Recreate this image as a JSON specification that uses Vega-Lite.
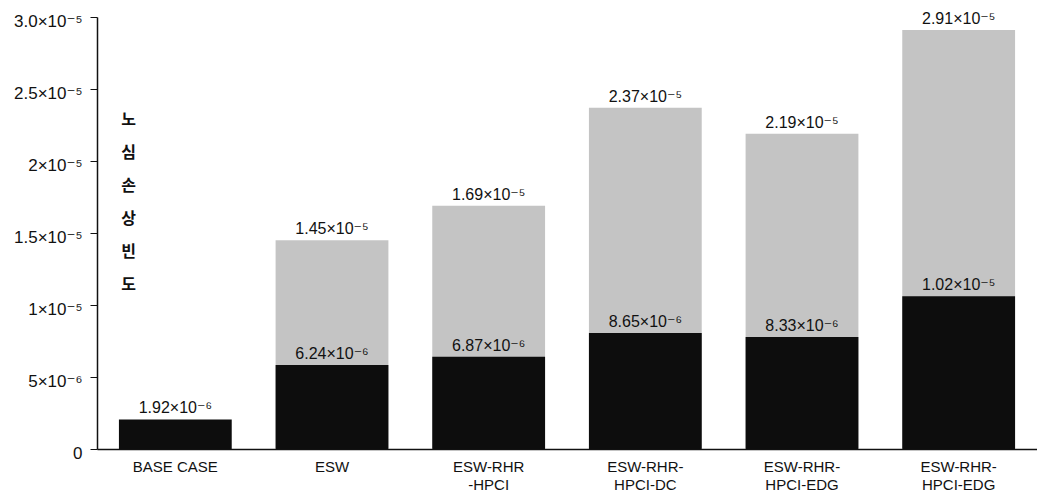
{
  "$schema": "https://vega.github.io/schema/vega-lite/v6.json",
  "autosize": "none",
  "padding": {"left": 97, "top": 17, "right": 0, "bottom": 50},
  "width": 940,
  "height": 432,
  "background": "white",
  "config": {
    "view": {"stroke": null},
    "font": "Liberation Sans Narrow, Liberation Sans, DejaVu Sans"
  },
  "data": {
    "values": [
      {"cat": "BASE CASE", "low": 2.05e-6, "total": null, "lowLabel": "1.92×10⁻⁶", "totalLabel": null},
      {"cat": "ESW", "low": 5.83e-6, "total": 1.45e-5, "lowLabel": "6.24×10⁻⁶", "totalLabel": "1.45×10⁻⁵"},
      {"cat": "ESW-RHR|-HPCI", "low": 6.4e-6, "total": 1.69e-5, "lowLabel": "6.87×10⁻⁶", "totalLabel": "1.69×10⁻⁵"},
      {"cat": "ESW-RHR-|HPCI-DC", "low": 8.05e-6, "total": 2.37e-5, "lowLabel": "8.65×10⁻⁶", "totalLabel": "2.37×10⁻⁵"},
      {"cat": "ESW-RHR-|HPCI-EDG", "low": 7.78e-6, "total": 2.19e-5, "lowLabel": "8.33×10⁻⁶", "totalLabel": "2.19×10⁻⁵"},
      {"cat": "ESW-RHR-|HPCI-EDG ", "low": 1.06e-5, "total": 2.91e-5, "lowLabel": "1.02×10⁻⁵", "totalLabel": "2.91×10⁻⁵"}
    ]
  },
  "encoding": {
    "x": {
      "field": "cat",
      "type": "nominal",
      "sort": ["BASE CASE", "ESW", "ESW-RHR|-HPCI", "ESW-RHR-|HPCI-DC", "ESW-RHR-|HPCI-EDG", "ESW-RHR-|HPCI-EDG "],
      "scale": {"paddingInner": 0.28, "paddingOuter": 0.14},
      "axis": {
        "title": null,
        "labelAngle": 0,
        "ticks": false,
        "domainColor": "#111",
        "domainWidth": 1.5,
        "labelExpr": "split(datum.label, '|')",
        "labelFontSize": 15,
        "labelColor": "#111",
        "labelPadding": 10,
        "labelLineHeight": 18
      }
    }
  },
  "layer": [
    {
      "mark": {"type": "bar", "color": "#c4c4c4"},
      "encoding": {
        "y": {
          "field": "total",
          "type": "quantitative",
          "scale": {"domain": [0, 3.0e-5], "nice": false},
          "axis": {
            "values": [0, 5e-6, 1e-5, 1.5e-5, 2e-5, 2.5e-5, 3.0e-5],
            "labelExpr": "datum.value == 0 ? '0' : datum.value < 0.9e-5 ? '5×10⁻⁶' : datum.value < 1.2e-5 ? '1×10⁻⁵' : datum.value < 1.7e-5 ? '1.5×10⁻⁵' : datum.value < 2.2e-5 ? '2×10⁻⁵' : datum.value < 2.7e-5 ? '2.5×10⁻⁵' : '3.0×10⁻⁵'",
            "grid": false,
            "domainColor": "#111",
            "domainWidth": 1.5,
            "tickColor": "#111",
            "tickSize": 7,
            "labelFontSize": 17,
            "labelColor": "#111",
            "labelPadding": 8,
            "labelOffset": 4,
            "title": ["노", "심", "손", "상", "빈", "도"],
            "titleAngle": 0,
            "titleFontSize": 16,
            "titleFontWeight": "bold",
            "titleFont": "Noto Sans CJK KR",
            "titleColor": "#111",
            "titleLineHeight": 33,
            "titleAlign": "center",
            "titleBaseline": "top",
            "titleX": 31,
            "titleY": 94
          }
        }
      }
    },
    {
      "mark": {"type": "bar", "color": "#0d0d0d"},
      "encoding": {"y": {"field": "low", "type": "quantitative"}}
    },
    {
      "mark": {"type": "text", "fontSize": 16, "color": "#111", "baseline": "alphabetic", "dy": -6},
      "encoding": {
        "y": {"field": "total", "type": "quantitative"},
        "text": {"field": "totalLabel"}
      }
    },
    {
      "mark": {"type": "text", "fontSize": 16, "color": "#111", "baseline": "alphabetic", "dy": -6},
      "encoding": {
        "y": {"field": "low", "type": "quantitative"},
        "text": {"field": "lowLabel"}
      }
    }
  ]
}
